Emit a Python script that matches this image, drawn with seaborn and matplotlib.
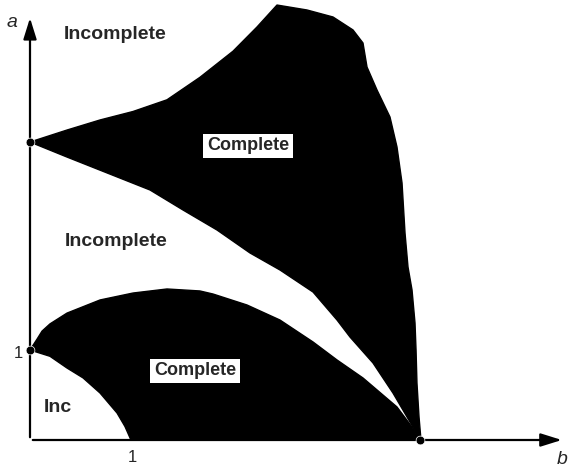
#!/usr/bin/env python3
"""
Regions of complete / incomplete behaviour in the (b, a) plane.
"""
import matplotlib
matplotlib.use('Agg')
import matplotlib.pyplot as plt
import seaborn as sns

# upper "Complete" region: top-left edge, then top / right edge
upper_top_b = [0.0, 0.359, 0.680, 1.000, 1.330, 1.650, 1.971, 2.204, 2.398,
               2.689, 2.942, 3.136, 3.233, 3.272, 3.369, 3.495, 3.563, 3.612,
               3.641, 3.670, 3.709, 3.738, 3.748, 3.757, 3.777, 3.796]
upper_top_a = [3.311, 3.444, 3.556, 3.650, 3.780, 4.030, 4.320, 4.589, 4.833,
               4.778, 4.700, 4.556, 4.411, 4.144, 3.889, 3.589, 3.256, 2.856,
               2.300, 1.922, 1.667, 1.300, 1.000, 0.633, 0.256, 0.0]

# lower edge of the upper region
upper_low_b = [0.0, 0.359, 1.165, 1.485, 1.816, 2.136, 2.427, 2.748, 2.981,
               3.107, 3.330, 3.524, 3.718, 3.786]
upper_low_a = [3.311, 3.144, 2.778, 2.556, 2.333, 2.078, 1.889, 1.644, 1.333,
               1.144, 0.856, 0.522, 0.144, 0.0]

# upper edge of the lower "Complete" region
lower_top_b = [0.0, 0.068, 0.117, 0.194, 0.359, 0.680, 1.000, 1.330, 1.650,
               1.777, 2.107, 2.427, 2.748, 2.981, 3.233, 3.563, 3.709, 3.786]
lower_top_a = [1.0, 1.120, 1.210, 1.290, 1.410, 1.556, 1.633, 1.678, 1.656,
               1.622, 1.500, 1.333, 1.089, 0.889, 0.689, 0.367, 0.144, 0.0]

# small "Inc" region near the origin
inc_b = [0.0, 0.194, 0.359, 0.515, 0.680, 0.845, 0.922, 0.98]
inc_a = [1.0, 0.930, 0.800, 0.690, 0.522, 0.300, 0.150, 0.0]

corner_b = [0.0, 0.0, 3.786]
corner_a = [3.311, 1.0, 0.0]

sns.set_theme(style='white')
plt.rcParams['font.family'] = ['Liberation Sans', 'DejaVu Sans']

fig = plt.figure(figsize=(5.68, 4.70), dpi=100)
ax = fig.add_axes([0, 0, 1, 1])
ax.set_xlim(-30 / 103, 538 / 103)
ax.set_ylim(-30 / 90, 440 / 90)
ax.axis('off')

# filled regions
up_b = upper_top_b + upper_low_b[::-1]
up_a = upper_top_a + upper_low_a[::-1]
ax.fill(up_b, up_a, color='black', lw=0)

lo_b = lower_top_b + inc_b[::-1]
lo_a = lower_top_a + inc_a[::-1]
ax.fill(lo_b, lo_a, color='black', lw=0)

for bb, aa in [(upper_top_b, upper_top_a), (upper_low_b, upper_low_a),
               (lower_top_b, lower_top_a), (inc_b, inc_a)]:
    sns.lineplot(x=bb, y=aa, sort=False, color='black', lw=1, ax=ax)

sns.scatterplot(x=corner_b, y=corner_a, color='black', s=40, ax=ax, zorder=5)

# axes with arrows
arrow = dict(arrowstyle='-|>,head_length=0.8,head_width=0.25', lw=1.6,
             color='black', mutation_scale=16)
ax.annotate('', xy=(0, 4.72), xytext=(0, 0), arrowprops=arrow)
ax.annotate('', xy=(5.19, 0), xytext=(0, 0), arrowprops=arrow)

ax.text(-0.175, 4.64, 'a', style='italic', fontsize=14, ha='center', va='center')
ax.text(5.165, -0.222, 'b', style='italic', fontsize=14, ha='center', va='center')
ax.text(0.99, -0.2, '1', fontsize=12, ha='center', va='center')
ax.text(-0.117, 0.96, '1', fontsize=12, ha='center', va='center')

ax.text(0.825, 4.511, 'Incomplete', fontsize=14, weight='bold', ha='center', va='center')
ax.text(0.835, 2.211, 'Incomplete', fontsize=14, weight='bold', ha='center', va='center')
ax.text(0.272, 0.356, 'Inc', fontsize=14, weight='bold', ha='center', va='center')

box = dict(boxstyle='square,pad=0.2', fc='white', ec='none')
ax.text(2.117, 3.267, 'Complete', fontsize=13, weight='bold', ha='center', va='center', bbox=box)
ax.text(1.602, 0.767, 'Complete', fontsize=13, weight='bold', ha='center', va='center', bbox=box)

plt.savefig('out.png', dpi=100)
plt.close()
